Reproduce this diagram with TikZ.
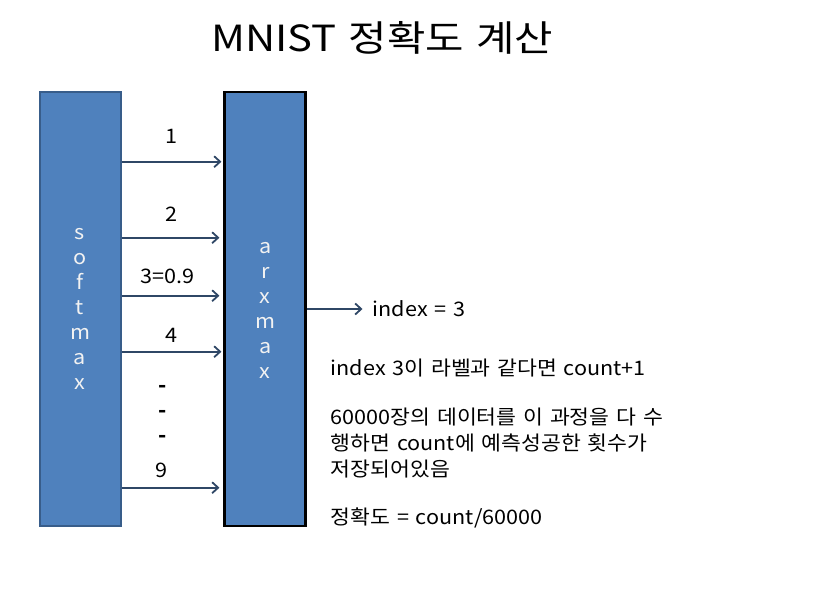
\documentclass[tikz,border=0pt]{standalone}
\usepackage{fontspec}
\setmainfont[FakeStretch=1.08,WordSpace=1.4]{Noto Sans CJK KR}
\newfontfamily\titlefont[FakeStretch=1.16,WordSpace=1.3]{Noto Sans CJK KR}
\usetikzlibrary{arrows.meta}
\definecolor{boxblue}{HTML}{4F81BD}
\definecolor{boxedge}{HTML}{385D8A}
\definecolor{arrowc}{HTML}{2F4766}
\begin{document}
\begin{tikzpicture}[x=1pt,y=-1pt,
  bar/.style={fill=boxblue,line width=2pt},
  vert/.style={text=white!95!black,align=center,font=\fontsize{20}{25}\selectfont,inner sep=0pt},
  lbl/.style={font=\fontsize{20}{24}\selectfont,inner sep=0pt},
  txt/.style={font=\fontsize{20}{26}\selectfont,inner sep=0pt,anchor=west,align=left},
  conn/.style={draw=arrowc,line width=2.1pt,-{Straight Barb[length=6pt,width=11pt,line width=1.8pt]}}]
\useasboundingbox (0,0) rectangle (820,615);
\node[font=\titlefont\fontsize{36}{42}\selectfont,inner sep=0pt] (title) at (382,38) {MNIST 정확도 계산};
\node[bar,draw=boxedge,minimum width=81pt,minimum height=434pt,inner sep=0pt] (soft) at (80,309) {};
\node[bar,draw=black,line width=2.5pt,minimum width=81pt,minimum height=434pt,inner sep=0pt] (arg) at (265.2,309) {};
\node[vert] (softtxt) at (80,309) {s\\o\\f\\t\\m\\a\\x};
\node[vert] (argtxt) at (265.2,310) {a\\r\\x\\m\\a\\x};
\coordinate (s1) at (soft.east |- 0,161.7); \coordinate (a1) at (arg.west |- 0,161.7);
\coordinate (s2) at (soft.east |- 0,237.7); \coordinate (a2) at (arg.west |- 0,237.7);
\coordinate (s3) at (soft.east |- 0,295.7); \coordinate (a3) at (arg.west |- 0,295.7);
\coordinate (s4) at (soft.east |- 0,351.7); \coordinate (a4) at (arg.west |- 0,351.7);
\coordinate (s9) at (soft.east |- 0,487.7); \coordinate (a9) at (arg.west |- 0,487.7);
\draw[conn,shorten >=2pt] (s1) -- (a1);
\draw[conn,shorten >=4pt] (s2) -- (a2);
\draw[conn,shorten >=4pt] (s3) -- (a3);
\draw[conn,shorten >=2pt] (s4) -- (a4);
\draw[conn,shorten >=4pt] (s9) -- (a9);
\node[lbl] (l1) at (171,136) {1};
\node[lbl] (l2) at (171,214) {2};
\node[lbl] (l3) at (167.7,276) {3=0.9};
\node[lbl] (l4) at (171,335.5) {4};
\node[lbl,font=\bfseries\fontsize{20}{24}\selectfont] (d1) at (162.7,389) {-};
\node[lbl,font=\bfseries\fontsize{20}{24}\selectfont] (d2) at (162.7,414) {-};
\node[lbl,font=\bfseries\fontsize{20}{24}\selectfont] (d3) at (162.7,439) {-};
\node[lbl] (l9) at (161,470) {9};
\node[txt] (idx) at (372.5,309) {index = 3};
\coordinate (o1) at (arg.east |- idx.west);
\draw[conn] (o1) -- ([xshift=-10pt]idx.west);
\node[txt] (t1) at (330.5,368) {index 3이 라벨과 같다면 count+1};
\node[txt] (t2) at (330.5,443) {60000장의 데이터를 이 과정을 다 수\\행하면 count에 예측성공한 횟수가\\저장되어있음};
\node[txt] (t3) at (330.5,518) {정확도 = count/60000};
\end{tikzpicture}
\end{document}
